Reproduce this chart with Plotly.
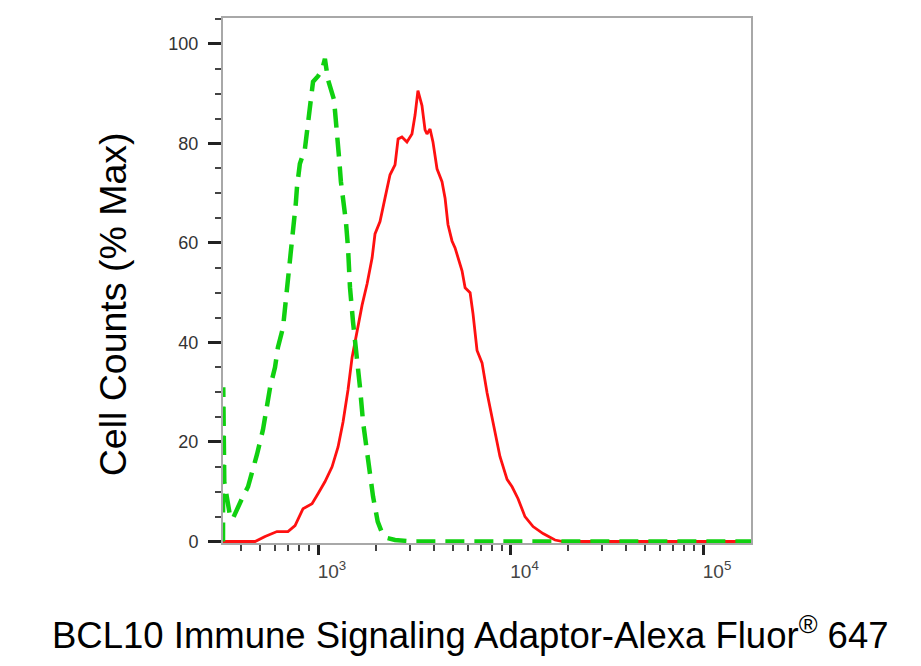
import plotly.graph_objects as go

# histogram traces (x = fluorescence intensity, y = % max)
iso_x = [321, 322, 326, 349, 360, 384, 407, 433, 457, 482, 518, 543, 564, 598, 619,
         658, 675, 698, 733, 750, 767, 778, 805, 855, 887, 908, 942, 1000, 1050, 1086,
         1127, 1211, 1256, 1285, 1315, 1349, 1396, 1432, 1466, 1521, 1596, 1652, 1714,
         1799, 1862, 1932, 2042, 2138, 2291, 2512, 3162, 5000, 10000, 20000, 50000,
         100000, 177400]
iso_y = [0, 31, 12, 5.2, 4.5, 7, 9, 11, 14, 17.5, 22.5, 27, 31, 35, 39,
         43, 47, 53, 60, 63, 68, 71.3, 75.9, 78.9, 84, 87.3, 92.4, 93.5, 94.8, 97,
         92.8, 88.8, 83, 77.3, 72.3, 68.9, 64.3, 59, 51, 44, 37, 31, 24,
         18, 14, 9, 4, 2, 0.7, 0.3, 0, 0, 0, 0, 0,
         0, 0]

bcl_x = [321, 471, 531, 612, 698, 760, 836, 931, 1000, 1086, 1183, 1271, 1349, 1432,
         1503, 1596, 1694, 1799, 1910, 1977, 2099, 2228, 2366, 2512, 2606, 2729, 2897,
         3076, 3192, 3304, 3467, 3597, 3681, 3819, 3954, 4150, 4406, 4571, 4732, 4966,
         5152, 5598, 5808, 6166, 6383, 6699, 7112, 7551, 8110, 8810, 9594, 10186, 10940,
         11885, 13092, 14757, 17022, 18750, 177400]
bcl_y = [0, 0, 1, 2, 2, 3.2, 6.6, 7.6, 9.6, 12, 15, 19, 24, 30.5,
         37, 42.4, 47.5, 51.8, 57, 61.8, 64.3, 69, 73.7, 75.7, 80.9, 81.3, 80.3,
         81.9, 85.7, 90.6, 87.6, 82.7, 81.9, 82.9, 80.3, 74.9, 72.3, 69, 63.7, 60.4,
         59, 54.4, 51, 50, 45.8, 38.4, 35.9, 29.9, 23.9, 17.1, 12.5, 11, 8.6,
         5, 3, 1.6, 0.3, 0, 0]

x_ticks = [1000, 10000, 100000]
x_labels = ["10<sup>3</sup>", "10<sup>4</sup>", "10<sup>5</sup>"]
x_minor = [400, 500, 600, 700, 800, 900,
           2000, 3000, 4000, 5000, 6000, 7000, 8000, 9000,
           20000, 30000, 40000, 50000, 60000, 70000, 80000, 90000]
y_ticks = [0, 20, 40, 60, 80, 100]
y_minor = [5, 10, 15, 25, 30, 35, 45, 50, 55, 65, 70, 75, 85, 90, 95, 105]

FONT = "Arial, Liberation Sans, sans-serif"

fig = go.Figure()
fig.add_trace(go.Scatter(x=bcl_x, y=bcl_y, mode="lines",
                         line=dict(color="#ff1010", width=2.8)))
fig.add_trace(go.Scatter(x=iso_x, y=iso_y, mode="lines",
                         line=dict(color="#10d010", width=4.5, dash="19px,10px")))

fig.update_layout(
    width=921, height=666, autosize=False,
    margin=dict(l=215, r=178, t=8, b=131),
    paper_bgcolor="white", plot_bgcolor="white",
    showlegend=False,
    font=dict(family=FONT, color="#333"),
    xaxis=dict(
        type="log", range=[2.5065, 5.249],
        showgrid=False, zeroline=False,
        showline=True, linecolor="#a8a8a8", linewidth=2, mirror=True,
        ticks="outside", ticklen=10, tickwidth=3, tickcolor="#222",
        tickmode="array", tickvals=x_ticks, ticktext=x_labels,
        tickfont=dict(size=19, color="#444"), ticklabelshift=14,
        minor=dict(tickmode="array", tickvals=x_minor, ticks="outside",
                   ticklen=6, tickwidth=1.5, tickcolor="#444"),
    ),
    yaxis=dict(
        range=[-0.3, 105.2],
        showgrid=False, zeroline=False,
        showline=True, linecolor="#a8a8a8", linewidth=2, mirror=True,
        ticks="outside", ticklen=13, tickwidth=3, tickcolor="#222",
        tickmode="array", tickvals=y_ticks,
        tickfont=dict(size=18, color="#333"), ticklabelstandoff=6,
        minor=dict(tickmode="array", tickvals=y_minor, ticks="outside",
                   ticklen=6, tickwidth=1.5, tickcolor="#444"),
    ),
    annotations=[
        dict(text="BCL10 Immune Signaling Adaptor-Alexa Fluor<sup>®</sup> 647",
             xref="paper", yref="paper", x=0.468, y=-0.171,
             xanchor="center", yanchor="middle", showarrow=False,
             font=dict(size=36.5, color="black", family=FONT)),
        dict(text="Cell Counts (% Max)",
             xref="paper", yref="paper", x=-0.208, y=0.455,
             xanchor="center", yanchor="middle", showarrow=False, textangle=-90,
             font=dict(size=37.5, color="black", family=FONT)),
    ],
)

fig.write_html("out.html")
